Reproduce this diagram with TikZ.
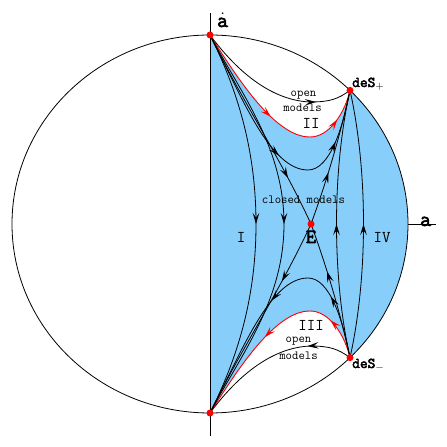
\documentclass[tikz,border=0pt]{standalone}
\usepackage{fontspec}
\newfontfamily\bttfont[FakeBold=3]{Latin Modern Mono}
\usetikzlibrary{arrows.meta,decorations.markings}
\definecolor{skyfill}{RGB}{135,206,250}
\tikzset{
  tipb/.tip={Stealth[length=11pt,width=6.5pt,inset=4.5pt]},
  flow/.style={line width=0.8pt, black},
  sepx/.style={line width=0.9pt, red},
  ar/.style={postaction={decorate,decoration={markings,mark=at position #1 with {\arrow{tipb}}}}},
  rar/.style={postaction={decorate,decoration={markings,mark=at position #1 with {\arrow[red]{tipb}}}}},
  small/.style={font=\ttfamily\fontsize{12.4}{14}\selectfont, inner sep=0pt},
  roman/.style={font=\ttfamily\fontsize{16.5}{19}\selectfont, inner sep=0pt},
  boldlab/.style={font=\bttfont\fontsize{15}{17}\selectfont, inner sep=0pt},
  biglab/.style={font=\bttfont\fontsize{21}{23}\selectfont, inner sep=0pt},
  elab/.style={font=\bttfont\fontsize{20}{22}\selectfont, inner sep=0pt},
  dot/.style={circle, fill=red, inner sep=0pt, minimum size=7pt},
}
\begin{document}
\begin{tikzpicture}[x=1pt,y=1pt]
\useasboundingbox (0,0) rectangle (447,447);
\coordinate (C) at (210,223);
\coordinate (T) at (210,412);
\coordinate (B) at (210,34);
\coordinate (P) at (350,356.64);
\coordinate (M) at (350,89.36);
\coordinate (E) at (311,223);
\coordinate (ytop) at (210,434);
\coordinate (ybot) at (210,11);
\coordinate (xl) at (408,223);
\coordinate (xr) at (436,223);
% blue region
\fill[skyfill] (T) .. controls (238,368) and (275,310) .. (310,310)
  .. controls (330,310) and (345,335) .. (P)
  arc[start angle=45, end angle=-45, x radius=198, y radius=189]
  .. controls (345,111) and (330,136) .. (310,136)
  .. controls (275,136) and (238,78) .. (B) -- cycle;
% ellipse and axes
\draw[line width=0.8pt] (C) ellipse[x radius=198, y radius=189];
\draw[line width=0.9pt] (ybot) -- (ytop);
\draw[line width=0.8pt] (xl) -- (xr);
% open models
\draw[flow, ar=0.78] (T) .. controls (230,385) and (265,347) .. (310,345)
  .. controls (330,345) and (338,348) .. (P);
\draw[flow, ar=0.27] (M) .. controls (338,98) and (330,101) .. (310,101)
  .. controls (265,99) and (230,61) .. (B);
% red separatrices
\draw[sepx, rar=0.48, rar=0.85] (T) .. controls (238,368) and (275,310) .. (310,310)
  .. controls (330,310) and (345,335) .. (P);
\draw[sepx, rar=0.2, rar=0.56] (M) .. controls (345,111) and (330,136) .. (310,136)
  .. controls (275,136) and (238,78) .. (B);
% region II / III hyperbolas
\draw[flow, ar=0.52, ar=0.8] (T) .. controls (242,350) and (270,277) .. (308,277)
  .. controls (330,277) and (343,320) .. (P);
\draw[flow, ar=0.24, ar=0.52] (M) .. controls (343,126) and (330,169) .. (308,169)
  .. controls (270,169) and (242,96) .. (B);
% separatrices through E
\draw[flow, ar=0.76] (T) .. controls (240,350) and (280,290) .. (E);
\draw[flow, ar=0.39] (E) .. controls (330,275) and (342,320) .. (P);
\draw[flow, ar=0.64] (M) .. controls (342,126) and (330,171) .. (E);
\draw[flow, ar=0.3] (E) .. controls (280,156) and (240,96) .. (B);
% region I
\draw[flow, ar=0.5] (T) .. controls (236,360) and (256,300) .. (256,223)
  .. controls (256,146) and (236,86) .. (B);
\draw[flow, ar=0.5] (T) .. controls (240,355) and (284,300) .. (284,223)
  .. controls (284,146) and (240,91) .. (B);
% region IV
\draw[flow, ar=0.5] (M) .. controls (332,170) and (332,276) .. (P);
\draw[flow, ar=0.5] (M) .. controls (368,170) and (368,276) .. (P);
% dots
\node[dot] (dT) at (T) {};
\node[dot] (dB) at (B) {};
\node[dot] (dP) at (P) {};
\node[dot] (dM) at (M) {};
\node[dot] (dE) at (E) {};
% labels
\node[biglab, anchor=base west] (ladot) at (217,420) {$\dot{\mbox{a}}$};
\node[biglab, anchor=base west] (la) at (420,221) {a};
\node[boldlab, anchor=base west] (ldp) at (352,360) {deS$_{+}$};
\node[boldlab, anchor=base west] (ldm) at (352,79) {deS$_{-}$};
\node[small, anchor=base] (lo1) at (303.5,350.5) {open};
\node[small, anchor=base] (lm1) at (302.5,335.5) {models};
\node[small, anchor=base] (lo2) at (298.5,104.5) {open};
\node[small, anchor=base] (lm2) at (298.5,87.5) {models};
\node[small, anchor=base] (lcm) at (303.5,243) {closed models};
\node[roman, anchor=base] (lII) at (311,318.5) {II};
\node[roman, anchor=base] (lIII) at (311,116.5) {III};
\node[roman, anchor=base] (lI) at (241,204) {I};
\node[roman, anchor=base] (lIV) at (382,204) {IV};
\node[elab, anchor=base] (lE) at (311,204) {E};
\end{tikzpicture}
\end{document}
